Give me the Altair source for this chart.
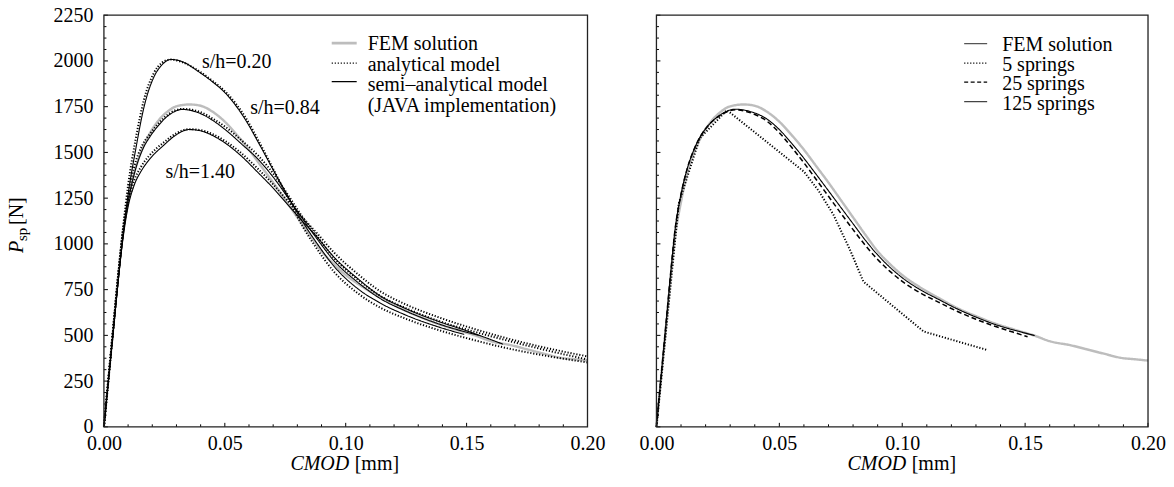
import altair as alt
import pandas as pd

FONT = "Liberation Serif"
FS = 20

# ---------------- data ----------------
# FEM solution (s/h = 0.84), shared by both panels
fem_x = [0, 0.002, 0.004, 0.006, 0.0078, 0.010, 0.0125, 0.015, 0.018, 0.022, 0.026, 0.030,
         0.0355, 0.040, 0.045, 0.050, 0.055, 0.060, 0.065, 0.070, 0.075, 0.080, 0.085, 0.090,
         0.095, 0.100, 0.107, 0.1147, 0.1223, 0.130, 0.1377, 0.146, 0.1539, 0.160, 0.1685,
         0.175, 0.182, 0.189, 0.195, 0.200]
fem_p = [0, 280, 560, 840, 1060, 1230, 1385, 1490, 1580, 1665, 1720, 1752,
         1762, 1755, 1722, 1668, 1595, 1515, 1425, 1335, 1240, 1145, 1050, 960,
         890, 830, 765, 705, 650, 605, 565, 530, 498, 468, 446,
         424, 400, 377, 369, 362]

# left panel: semi-analytical model (solid)
semi020_x = [0, 0.002, 0.004, 0.006, 0.008, 0.010, 0.0131, 0.0166, 0.0207, 0.024, 0.0276, 0.032,
             0.0393, 0.045, 0.0504, 0.0586, 0.0641, 0.070, 0.076, 0.082, 0.088, 0.095, 0.105,
             0.1138, 0.125, 0.1386, 0.149]
semi020_p = [0, 270, 540, 810, 1060, 1270, 1513, 1749, 1913, 1978, 2008, 1998,
             1940, 1885, 1822, 1677, 1549, 1405, 1262, 1125, 1005, 880, 755,
             680, 610, 545, 505]

semi084_x = [0, 0.002, 0.004, 0.006, 0.008, 0.0098, 0.0125, 0.0159, 0.019, 0.0221, 0.027, 0.0324,
             0.040, 0.045, 0.0504, 0.057, 0.0641, 0.070, 0.076, 0.082, 0.088, 0.095, 0.105,
             0.1138, 0.125, 0.1386, 0.155]
semi084_p = [0, 270, 540, 810, 1050, 1215, 1380, 1513, 1585, 1640, 1705, 1735,
             1712, 1675, 1622, 1545, 1458, 1365, 1255, 1140, 1030, 910, 790,
             705, 632, 562, 500]

semi140_x = [0, 0.002, 0.004, 0.006, 0.008, 0.0098, 0.0125, 0.0155, 0.0186, 0.0248, 0.030, 0.0352,
             0.040, 0.045, 0.0504, 0.056, 0.0641, 0.070, 0.076, 0.082, 0.088, 0.095, 0.105,
             0.1138, 0.125, 0.1386, 0.150, 0.165]
semi140_p = [0, 270, 540, 810, 1040, 1190, 1320, 1400, 1458, 1540, 1597, 1625,
             1618, 1592, 1549, 1490, 1385, 1305, 1215, 1125, 1040, 930, 810,
             720, 645, 575, 525, 452]

# left panel: analytical model (dotted)
ana020_x = [0, 0.002, 0.004, 0.006, 0.008, 0.010, 0.0131, 0.0166, 0.0207, 0.024, 0.0276, 0.032,
            0.0393, 0.045, 0.0504, 0.0586, 0.0641, 0.070, 0.076, 0.082, 0.088, 0.095, 0.105,
            0.1138, 0.125, 0.1386, 0.150, 0.165, 0.180, 0.200]
ana020_p = [0, 280, 560, 840, 1100, 1320, 1570, 1790, 1935, 1990, 2008, 1995,
            1945, 1890, 1830, 1690, 1560, 1410, 1255, 1100, 975, 850, 730,
            655, 590, 528, 485, 435, 395, 352]

ana084_x = [0, 0.002, 0.004, 0.006, 0.008, 0.0098, 0.0125, 0.0159, 0.019, 0.0221, 0.027, 0.0324,
            0.040, 0.045, 0.0504, 0.057, 0.0641, 0.070, 0.076, 0.082, 0.088, 0.095, 0.105,
            0.1138, 0.125, 0.1386, 0.150, 0.165, 0.180, 0.200]
ana084_p = [0, 280, 560, 840, 1085, 1250, 1420, 1540, 1600, 1652, 1712, 1738,
            1720, 1685, 1638, 1565, 1478, 1385, 1270, 1150, 1045, 925, 805,
            720, 648, 578, 532, 478, 428, 368]

ana140_x = [0, 0.002, 0.004, 0.006, 0.008, 0.0098, 0.0125, 0.0155, 0.0186, 0.0248, 0.030, 0.0352,
            0.040, 0.045, 0.0504, 0.056, 0.0641, 0.070, 0.076, 0.082, 0.088, 0.095, 0.105,
            0.1138, 0.125, 0.1386, 0.150, 0.165, 0.180, 0.200]
ana140_p = [0, 280, 560, 840, 1070, 1215, 1345, 1425, 1480, 1555, 1605, 1627,
            1622, 1600, 1560, 1505, 1405, 1325, 1235, 1145, 1060, 955, 835,
            745, 668, 598, 548, 490, 440, 385]

# right panel: number of springs
s125_x = [0, 0.002, 0.004, 0.006, 0.0075, 0.0098, 0.0125, 0.0152, 0.018, 0.0213, 0.026, 0.0321,
          0.038, 0.045, 0.050, 0.055, 0.060, 0.065, 0.070, 0.075, 0.080, 0.085, 0.090, 0.095,
          0.100, 0.107, 0.1147, 0.1223, 0.130, 0.1377, 0.146, 0.1539]
s125_p = [0, 290, 580, 870, 1070, 1258, 1410, 1513, 1590, 1650, 1705, 1736,
          1724, 1682, 1625, 1550, 1468, 1380, 1290, 1200, 1110, 1020, 940, 872,
          815, 752, 697, 645, 600, 560, 527, 499]

s25_x = [0, 0.002, 0.004, 0.006, 0.0075, 0.0098, 0.0125, 0.0152, 0.018, 0.0213, 0.026, 0.0321,
         0.038, 0.045, 0.050, 0.055, 0.060, 0.065, 0.070, 0.075, 0.080, 0.085, 0.090, 0.095,
         0.100, 0.107, 0.1147, 0.1223, 0.130, 0.1377, 0.145, 0.151]
s25_p = [0, 290, 580, 870, 1070, 1258, 1410, 1513, 1590, 1650, 1703, 1733,
         1718, 1670, 1608, 1528, 1443, 1352, 1260, 1168, 1078, 992, 915, 850,
         795, 735, 682, 632, 588, 550, 518, 492]

s5_x = [0, 0.0091, 0.0176, 0.0287, 0.0600, 0.0660, 0.0720, 0.0790, 0.0842, 0.1087, 0.1343]
s5_p = [0, 1222, 1577, 1731, 1395, 1290, 1160, 960, 794, 521, 421]

# annotations
sh_labels = ["s/h=0.20", "s/h=0.84", "s/h=1.40"]
sh_x = [0.0549, 0.0749, 0.0398]
sh_p = [1993, 1742, 1393]

x_ticks = [0.0, 0.05, 0.10, 0.15, 0.20]
y_ticks = [0, 250, 500, 750, 1000, 1250, 1500, 1750, 2000, 2250]


def series(name, style, xs, ps):
    return pd.DataFrame({"series": name, "style": style, "x": xs, "P": ps})


left_df = pd.concat([
    series("FEM", "fem", fem_x, fem_p),
    series("ana020", "dot", ana020_x, ana020_p),
    series("ana084", "dot", ana084_x, ana084_p),
    series("ana140", "dot", ana140_x, ana140_p),
    series("semi020", "solid", semi020_x, semi020_p),
    series("semi084", "solid", semi084_x, semi084_p),
    series("semi140", "solid", semi140_x, semi140_p),
], ignore_index=True)

right_smooth = pd.concat([
    series("FEM", "fem", fem_x, fem_p),
    series("25 springs", "dash", s25_x, s25_p),
    series("125 springs", "solid", s125_x, s125_p),
], ignore_index=True)
right_5 = series("5 springs", "dot", s5_x, s5_p)

labels_df = pd.DataFrame({"text": sh_labels, "x": sh_x, "P": sh_p})

minor_x = pd.DataFrame({"x": [i / 100 for i in range(21)]})
minor_x["major"] = [i % 5 == 0 for i in range(21)]
minor_y = pd.DataFrame({"P": [i * 62.5 for i in range(37)]})
minor_y["major"] = [i % 4 == 0 for i in range(37)]

H = 412
WL = 484
WR = 492

xscale = alt.Scale(domain=[0, 0.2], nice=False, zero=False)
yscale = alt.Scale(domain=[0, 2250], nice=False)

x_axis = alt.Axis(values=x_ticks, format=".2f", title=None, ticks=False, domain=False, grid=False,
                  labelFont=FONT, labelFontSize=FS, labelColor="black", labelPadding=7,
                  labelFlush=False)
y_axis_left = alt.Axis(values=y_ticks, format="d", title=None, ticks=False, domain=False, grid=False,
                       labelFont=FONT, labelFontSize=FS, labelColor="black", labelPadding=11)

style_dom = ["fem", "dot", "dash", "solid"]
color_s = alt.Scale(domain=style_dom, range=["#bdbdbd", "black", "black", "black"])
dash_s = alt.Scale(domain=style_dom, range=[[1, 0], [1.2, 1.8], [5, 3], [1, 0]])
width_s = alt.Scale(domain=style_dom, range=[2.4, 1.1, 1.2, 1.4])


def X(axis=x_axis):
    return alt.X("x:Q", scale=xscale, axis=axis)


def Y(axis):
    return alt.Y("P:Q", scale=yscale, axis=axis)


def lines(df, y_axis, interp="monotone"):
    return alt.Chart(df).mark_line(interpolate=interp, strokeCap="butt").encode(
        x=X(), y=Y(y_axis),
        color=alt.Color("style:N", scale=color_s, legend=None),
        strokeDash=alt.StrokeDash("style:N", scale=dash_s, legend=None),
        strokeWidth=alt.StrokeWidth("style:N", scale=width_s, legend=None),
        detail="series:N",
    )


def tick_layers(y_axis):
    maj_y = alt.Chart(minor_y[minor_y.major]).mark_rule(color="black", strokeWidth=1).encode(
        y=Y(y_axis), x=alt.value(0), x2=alt.value(4))
    min_y = alt.Chart(minor_y[~minor_y.major]).mark_rule(color="black", strokeWidth=1).encode(
        y=Y(y_axis), x=alt.value(0), x2=alt.value(2.5))
    maj_x = alt.Chart(minor_x[minor_x.major]).mark_rule(color="black", strokeWidth=1).encode(
        x=X(), y=alt.value(H), y2=alt.value(H - 4))
    min_x = alt.Chart(minor_x[~minor_x.major]).mark_rule(color="black", strokeWidth=1).encode(
        x=X(), y=alt.value(H), y2=alt.value(H - 2.5))
    return [maj_y, min_y, maj_x, min_x]


one = pd.DataFrame({"d": [0]})


def frame(w):
    return alt.Chart(one).mark_rect(fill=None, stroke="#222", strokeWidth=1.3).encode(
        x=alt.value(0), x2=alt.value(w), y=alt.value(0), y2=alt.value(H))


def txt(text, x, y, align="left", size=FS, style="normal", angle=0, baseline="middle"):
    kw = dict(font=FONT, fontSize=size, fontStyle=style, align=align, baseline=baseline,
              color="black", text=text)
    if angle:
        kw["angle"] = angle
    return alt.Chart(one).mark_text(**kw).encode(x=alt.value(x), y=alt.value(y))


def sample(x1, x2, y, color, dash, width):
    return alt.Chart(one).mark_rule(color=color, strokeDash=dash, strokeWidth=width).encode(
        x=alt.value(x1), x2=alt.value(x2), y=alt.value(y))


# ---------------- left panel ----------------
left_layers = [lines(left_df, y_axis_left)] + tick_layers(y_axis_left) + [frame(WL)]
left_layers.append(
    alt.Chart(labels_df).mark_text(font=FONT, fontSize=FS, color="black", align="center",
                                   baseline="middle").encode(x=X(), y=Y(y_axis_left), text="text:N"))
# legend
left_layers += [
    sample(228, 253, 28, "#bdbdbd", [1, 0], 2.6),
    sample(228, 253, 48, "black", [1.2, 1.8], 1.1),
    sample(228, 253, 66.5, "black", [1, 0], 1.4),
    txt("FEM solution", 264, 29),
    txt("analytical model", 264, 50),
    txt("semi\u2013analytical model", 264, 69.5),
    txt("(JAVA implementation)", 264, 90.5),
]
# axis titles
left_layers += [
    txt("CMOD", 245.5, H + 37, align="right", style="italic"),
    txt("[mm]", 251, H + 37),
    txt("P", -80.5, 238, angle=270, style="italic", baseline="alphabetic"),
    txt("sp", -77, 226, angle=270, size=15, baseline="alphabetic"),
    txt("[N]", -80.5, 210, angle=270, baseline="alphabetic"),
]
left = alt.layer(*left_layers).properties(width=WL, height=H)

# ---------------- right panel ----------------
right_layers = ([lines(right_smooth, None), lines(right_5, None, interp="linear")]
                + tick_layers(None) + [frame(WR)])
right_layers += [
    sample(308, 331, 28.5, "#555", [1, 0], 1.3),
    sample(308, 331, 48, "black", [1.2, 1.8], 1.1),
    sample(308, 331, 67, "black", [4, 2.5], 1.2),
    sample(308, 331, 86.5, "#444", [1, 0], 1.3),
    txt("FEM solution", 346, 29.5),
    txt("5 springs", 346, 50),
    txt("25 springs", 346, 69),
    txt("125 springs", 346, 88.5),
    txt("CMOD", 250, H + 37, align="right", style="italic"),
    txt("[mm]", 255.5, H + 37),
]
right = alt.layer(*right_layers).properties(width=WR, height=H)

chart = alt.hconcat(left, right, spacing=69, bounds="flush").properties(
    padding={"left": -1, "top": -3, "right": 0, "bottom": 2}
).configure_view(stroke=None)

chart.save("out.html", embed_options={"renderer": "svg", "actions": False})
